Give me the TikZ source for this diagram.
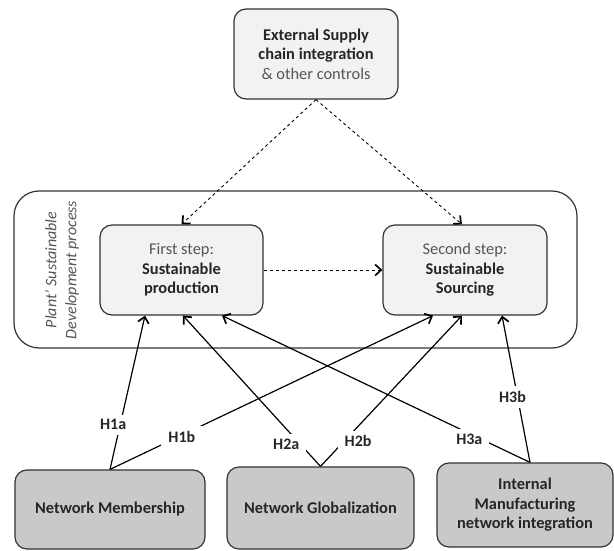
\documentclass[tikz,border=0pt]{standalone}
\usepackage{fontspec}
\setmainfont{Carlito}
\usetikzlibrary{arrows.meta}
\definecolor{lightbox}{HTML}{F2F2F2}
\definecolor{darkbox}{HTML}{C9C9C9}
\definecolor{edge}{HTML}{333333}
\definecolor{softtext}{HTML}{555555}
\tikzset{
	box/.style={draw=edge, line width=1.2pt, rounded corners=12pt, fill=lightbox, align=center, inner sep=0pt, text=black!85, font=\fontsize{16.4}{19.5}\selectfont},
	netbox/.style={box, fill=darkbox},
	hyp/.style={fill=white, inner xsep=7pt, inner ysep=5pt, text=black!85, font=\fontsize{16}{18}\selectfont\bfseries}
}
\begin{document}
\begin{tikzpicture}[x=1pt,y=-1pt,>={Straight Barb[length=6pt,width=11pt,line width=1.7pt]},line width=1.2pt]
	\useasboundingbox (0,0) rectangle (614,551);
	\node[box, minimum width=164pt, minimum height=90pt] (esc) at (316,54) {\textbf{External Supply}\\\textbf{chain integration}\\{\color{softtext}\& other controls}};
	\draw[draw=edge, line width=1.2pt, rounded corners=25pt] (14,191) rectangle (577,348);
	\node[rotate=90, align=center, text=softtext, font=\fontsize{16}{20}\selectfont\itshape] (plant) at (62,270) {Plant’ Sustainable\\Development process};
	\node[box, minimum width=163pt, minimum height=90pt] (first) at (181.5,270) {{\color{softtext}First step:}\\\textbf{Sustainable}\\\textbf{production}};
	\node[box, minimum width=164pt, minimum height=90pt] (second) at (465,270) {{\color{softtext}Second step:}\\\textbf{Sustainable}\\\textbf{Sourcing}};
	\node[netbox, minimum width=190pt, minimum height=79pt] (nm) at (110,509.5) {\textbf{Network Membership}};
	\node[netbox, minimum width=187pt, minimum height=82pt] (ng) at (320.5,508) {\textbf{Network Globalization}};
	\node[netbox, minimum width=176pt, minimum height=84pt] (im) at (525,505) {\textbf{Internal}\\\textbf{Manufacturing}\\\textbf{network integration}};
	\draw[->, dashed, line width=0.9pt] (esc.south) -- (first.north);
	\draw[->, dashed, line width=0.9pt] (esc.south) -- ([xshift=-3pt]second.north);
	\draw[->, dashed, line width=0.9pt] (first.east) -- (second.west);
	\draw[->] (nm.north) -- ([xshift=-36.5pt]first.south) node[hyp, pos=0.29, xshift=-7pt] {H1a};
	\draw[->] (nm.north) -- ([xshift=-32pt]second.south) node[hyp, pos=0.21, xshift=4pt] {H1b};
	\draw[->] (ng.north) -- ([xshift=1.5pt]first.south) node[hyp, pos=0.147, xshift=-14pt] {H2a};
	\draw[->] (ng.north) -- ([xshift=-3pt]second.south) node[hyp, pos=0.167, xshift=14pt] {H2b};
	\draw[->] ([xshift=5pt]im.north) -- ([xshift=40.5pt]first.south) node[hyp, pos=0.158, xshift=-12pt] {H3a};
	\draw[->] ([xshift=5pt]im.north) -- ([xshift=37pt]second.south) node[hyp, pos=0.445, xshift=-5pt] {H3b};
\end{tikzpicture}
\end{document}
